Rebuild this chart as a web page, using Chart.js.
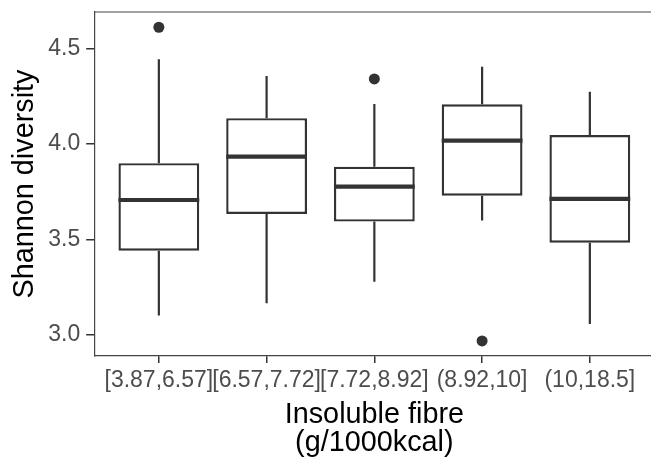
<!DOCTYPE html>
<html>
<head>
<meta charset="utf-8">
<script src="https://cdn.jsdelivr.net/npm/chart.js@4/dist/chart.umd.min.js"></script>
<style>
  html, body { margin: 0; padding: 0; background: #ffffff; overflow: hidden; }
  #wrap { width: 660px; height: 460px; }
</style>
</head>
<body>
<div id="wrap"><canvas id="c" width="660" height="460"></canvas></div>
<script>
// ---- data ----
const categories   = ["[3.87,6.57]", "[6.57,7.72]", "[7.72,8.92]", "(8.92,10]", "(10,18.5]"];
const whiskerLow   = [3.10, 3.165, 3.278, 3.598, 3.056];
const q1           = [3.440, 3.633, 3.593, 3.729, 3.482];
const median       = [3.706, 3.934, 3.776, 4.017, 3.712];
const q3           = [3.899, 4.135, 3.881, 4.208, 4.047];
const whiskerHigh  = [4.444, 4.357, 4.210, 4.405, 4.274];
const outliers     = [[4.612], [], [4.341], [2.967], []];
const yTicks       = [3.0, 3.5, 4.0, 4.5];

const INK = '#333333';

const boxData = categories.map((c, i) => ({ x: i + 1, y: [q1[i], q3[i]] }));
const outlierData = [];
outliers.forEach((vals, i) => vals.forEach(v => outlierData.push({ x: i + 1, y: v })));

const boxPlugin = {
  id: 'boxparts',
  beforeDatasetsDraw(chart) {
    const ctx = chart.ctx, xs = chart.scales.x, ys = chart.scales.y;
    ctx.save();
    ctx.strokeStyle = INK;
    ctx.lineWidth = 2.2;
    ctx.lineCap = 'butt';
    categories.forEach((c, i) => {
      const px = xs.getPixelForValue(i + 1);
      ctx.beginPath();
      ctx.moveTo(px, ys.getPixelForValue(q3[i]));
      ctx.lineTo(px, ys.getPixelForValue(whiskerHigh[i]));
      ctx.moveTo(px, ys.getPixelForValue(q1[i]));
      ctx.lineTo(px, ys.getPixelForValue(whiskerLow[i]));
      ctx.stroke();
    });
    ctx.restore();
  },
  afterDatasetsDraw(chart) {
    const ctx = chart.ctx, xs = chart.scales.x, ys = chart.scales.y;
    const meta = chart.getDatasetMeta(0);
    ctx.save();
    ctx.strokeStyle = INK;
    ctx.lineWidth = 4.2;
    categories.forEach((c, i) => {
      const bar = meta.data[i];
      const half = bar.width / 2;
      const px = xs.getPixelForValue(i + 1);
      const py = ys.getPixelForValue(median[i]);
      ctx.beginPath();
      ctx.moveTo(px - half, py);
      ctx.lineTo(px + half, py);
      ctx.stroke();
    });
    // panel top border
    const a = chart.chartArea;
    ctx.strokeStyle = '#444444';
    ctx.lineWidth = 1.2;
    ctx.beginPath();
    ctx.moveTo(a.left, a.top);
    ctx.lineTo(a.right, a.top);
    ctx.stroke();
    ctx.restore();
  }
};

new Chart(document.getElementById('c'), {
  type: 'bar',
  data: {
    datasets: [
      {
        type: 'bar',
        data: boxData,
        backgroundColor: '#ffffff',
        borderColor: INK,
        borderWidth: 2.4,
        borderSkipped: false,
        categoryPercentage: 1,
        barPercentage: 0.75
      },
      {
        type: 'scatter',
        data: outlierData,
        pointRadius: 5.5,
        pointBackgroundColor: INK,
        pointBorderWidth: 0
      }
    ]
  },
  options: {
    responsive: false,
    devicePixelRatio: 1,
    animation: false,
    layout: { padding: { top: 12, right: 4.2, left: 0, bottom: 0 } },
    plugins: { legend: { display: false }, tooltip: { enabled: false } },
    scales: {
      x: {
        type: 'linear',
        offset: false,
        min: 0.4,
        max: 5.6,
        afterBuildTicks: s => { s.ticks = categories.map((c, i) => ({ value: i + 1 })); },
        afterFit: s => { s.height = 104; s.paddingLeft = 0; s.paddingRight = 0; },
        ticks: {
          autoSkip: false, maxRotation: 0, minRotation: 0,
          padding: 4,
          color: '#4D4D4D',
          font: { family: 'Liberation Sans', size: 23 },
          callback: v => categories[Math.round(v) - 1]
        },
        grid: { offset: false, drawOnChartArea: false, drawTicks: true, tickLength: 7, color: INK, lineWidth: 1.5 },
        border: { display: true, color: '#444444', width: 1.2 },
        title: {
          display: true,
          text: ['Insoluble fibre', '(g/1000kcal)'],
          color: '#000000',
          font: { family: 'Liberation Sans', size: 28.8, lineHeight: '28px' },
          padding: { top: 0, bottom: 3 }
        }
      },
      y: {
        type: 'linear',
        min: 2.888,
        max: 4.692,
        afterBuildTicks: s => { s.ticks = yTicks.map(v => ({ value: v })); },
        afterFit: s => { s.width = 94.2; s.paddingTop = 0; s.paddingBottom = 0; },
        ticks: {
          padding: 6,
          color: '#4D4D4D',
          font: { family: 'Liberation Sans', size: 23 },
          callback: v => Number(v).toFixed(1)
        },
        grid: { drawOnChartArea: false, drawTicks: true, tickLength: 8, color: INK, lineWidth: 1.5 },
        border: { display: true, color: '#444444', width: 1.2 },
        title: {
          display: true,
          text: 'Shannon diversity',
          color: '#000000',
          font: { family: 'Liberation Sans', size: 28.8, lineHeight: '28px' },
          padding: { top: 11.5, bottom: 0 }
        }
      }
    }
  },
  plugins: [boxPlugin]
});
</script>
</body>
</html>
